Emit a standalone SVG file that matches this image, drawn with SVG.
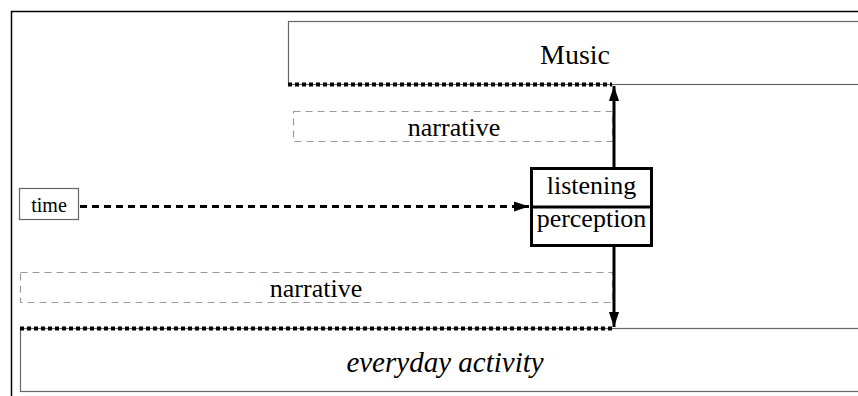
<svg xmlns="http://www.w3.org/2000/svg" width="858" height="396" viewBox="0 0 858 396">
  <style>
    text { font-family: "Liberation Serif", "Times New Roman", serif; fill: #000; text-anchor: middle; }
    .frame { fill: none; stroke: #000; stroke-width: 1.5; }
    .band { fill: #fff; stroke: #666; stroke-width: 1.2; }
    .edge { fill: none; stroke: #000; stroke-width: 4; stroke-dasharray: 4 3; }
    .story { fill: none; stroke: #999; stroke-width: 1.2; stroke-dasharray: 7 5; }
    .solid { fill: none; stroke: #000; stroke-width: 3; }
    .flow { fill: none; stroke: #000; stroke-width: 3; stroke-dasharray: 7 5; }
    .box { fill: #fff; stroke: #000; stroke-width: 3; }
    .tag { fill: #fff; stroke: #666; stroke-width: 1.2; }
  </style>
  <defs>
    <marker id="head" viewBox="0 0 10 10" refX="10" refY="5" markerWidth="5" markerHeight="5" orient="auto" markerUnits="strokeWidth">
      <path d="M0,1.6 L10,5 L0,8.4 Z" fill="#000"/>
    </marker>
  </defs>

  <rect width="858" height="396" fill="#fff"/>

  <!-- outer frame -->
  <path class="frame" d="M11.5,396 V11.5 H858"/>

  <!-- Music band -->
  <g id="music">
    <rect class="band" x="288.5" y="21.5" width="590" height="63"/>
    <path class="edge" d="M288,84.5 H612"/>
    <text x="575" y="64" font-size="28">Music</text>
  </g>

  <!-- narrative above -->
  <g id="narrative-top">
    <rect class="story" x="293.5" y="111.5" width="319" height="30"/>
    <text x="454" y="136" font-size="26">narrative</text>
  </g>

  <!-- narrative below -->
  <g id="narrative-bottom">
    <rect class="story" x="20.5" y="272.5" width="592" height="30"/>
    <text x="316" y="297" font-size="26">narrative</text>
  </g>

  <!-- everyday activity band -->
  <g id="everyday">
    <rect class="band" x="20.5" y="328.5" width="860" height="63"/>
    <path class="edge" d="M20,328.5 H612"/>
    <text x="445" y="372" font-size="29" font-style="italic">everyday activity</text>
  </g>

  <!-- time -->
  <g id="time">
    <rect class="tag" x="19.5" y="188.5" width="59" height="31"/>
    <text x="49" y="212" font-size="20">time</text>
  </g>

  <!-- connectors -->
  <g id="connectors">
    <path class="flow" d="M80,206.5 H529" marker-end="url(#head)"/>
    <path class="solid" d="M614,168 V86" marker-end="url(#head)"/>
    <path class="solid" d="M614,246 V327" marker-end="url(#head)"/>
  </g>

  <!-- listening / perception -->
  <g id="listening-perception">
    <rect class="box" x="531.5" y="168.5" width="120" height="77"/>
    <path class="solid" d="M531.5,207 H651.5"/>
    <text x="591.5" y="194" font-size="26">listening</text>
    <text x="591.5" y="227" font-size="26">perception</text>
  </g>
</svg>
